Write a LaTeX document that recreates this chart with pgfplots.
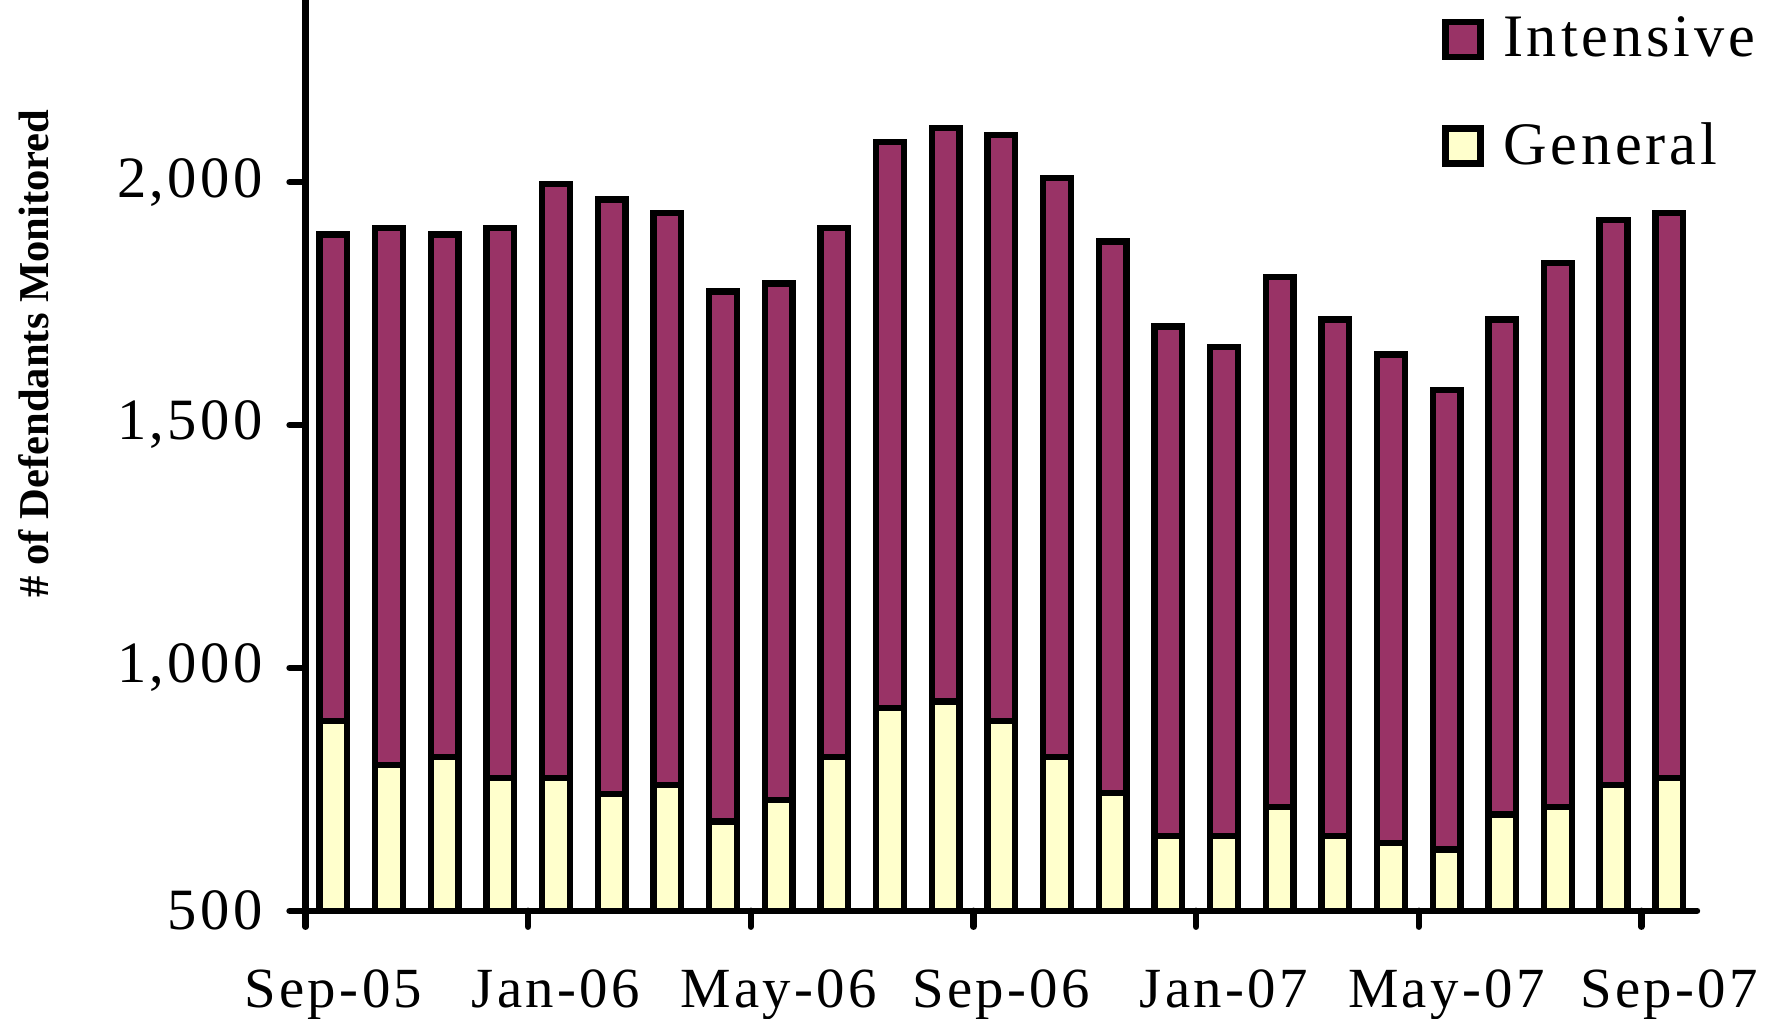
\documentclass[border=0pt]{standalone}
\usepackage{pgfplots}
\pgfplotsset{compat=1.18}
\usepackage{pgfplotstable}
\usepackage{fontspec}
\setmainfont{Liberation Serif}
\newfontfamily\spaced[LetterSpace=6]{Liberation Serif}
\newfontfamily\spacedl[LetterSpace=6.5]{Liberation Serif}
\definecolor{intens}{HTML}{993366}
\definecolor{gen}{HTML}{FFFFCC}

\pgfplotstableread{
x gen int
1 891 1001
2 800 1106
3 817 1075
4 773 1133
5 773 1223
6 740 1224
7 759 1177
8 684 1091
9 728 1063
10 817 1089
11 917 1166
12 931 1180
13 891 1206
14 817 1191
15 742 1136
16 654 1049
17 654 1007
18 714 1091
19 654 1063
20 640 1005
21 626 946
22 698 1019
23 714 1119
24 759 1163
25 773 1163
}\data

\begin{document}
\begin{tikzpicture}
\begin{axis}[
  scale only axis, width=392.2pt, height=256.7pt,
  ybar stacked, bar width=7.8pt,
  xmin=0.5, xmax=25.5, ymin=500, ymax=2375,
  axis x line*=bottom, axis y line*=left,
  axis line style={line width=1.8pt, line cap=round},
  tick align=outside, major tick length=4.5pt,
  xtick={1,5,9,13,17,21,25},
  xticklabels={Sep-05,Jan-06,May-06,Sep-06,Jan-07,May-07,Sep-07},
  x tick style={draw=none},
  extra x ticks={0.5,4.5,8.5,12.5,16.5,20.5,24.5},
  extra x tick labels={},
  extra x tick style={x tick style={draw=black, line width=1.8pt, line cap=round}},
  ytick={500,1000,1500,2000},
  y tick style={draw=black, line width=1.8pt, line cap=round},
  /pgf/number format/.cd, 1000 sep={,}, assume math mode=true, /pgfplots/.cd,
  xticklabel style={font=\spaced\fontsize{16}{19}\selectfont, yshift=-8.5pt},
  yticklabel style={font=\spaced\fontsize{16.5}{19}\selectfont, xshift=-4pt},
  ylabel={\# of Defendants Monitored},
  ylabel style={font=\bfseries\fontsize{12}{14}\selectfont, at={(axis description cs:-0.195,0.612)}, anchor=center},
  reverse legend,
  legend style={at={(rel axis cs:0.8165,0.99)}, anchor=north west, draw=none, fill=none,
    font=\spacedl\fontsize{17}{20}\selectfont, row sep=13pt, inner sep=0pt, cells={anchor=west}},
  legend image code/.code={\draw[#1, line width=1.8pt, draw=black] (0pt,-4.9pt) rectangle (9.8pt,4.9pt);},
  legend style={nodes={inner xsep=5.5pt}},
]
\addplot[fill=gen, draw=black, line width=1.8pt] table[x=x,y=gen]{\data};
\addlegendentry{General}
\addplot[fill=intens, draw=black, line width=1.8pt] table[x=x,y=int]{\data};
\addlegendentry{Intensive}
\coordinate (bl) at (rel axis cs:0,0);
\coordinate (tr) at (rel axis cs:1,1);
\end{axis}
\pgfresetboundingbox
\path ([xshift=-86.1pt,yshift=-30.3pt]bl) rectangle ([xshift=21.7pt]tr);
\end{tikzpicture}
\end{document}
